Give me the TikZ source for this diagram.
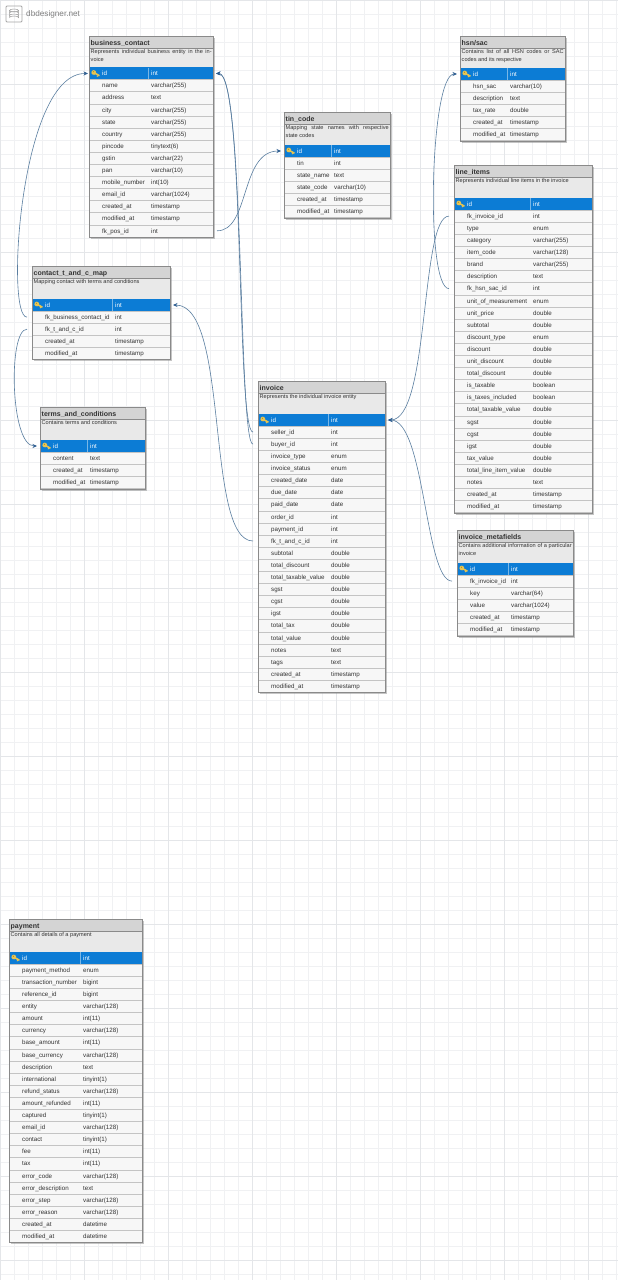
\documentclass[tikz,border=0pt]{standalone}
\usepackage{fontspec}
\setmainfont{Liberation Sans}
\usetikzlibrary{arrows.meta,calc}
\definecolor{gridminor}{HTML}{F0F1F3}
\definecolor{gridmajor}{HTML}{E4E6E9}
\definecolor{headfill}{HTML}{D4D4D4}
\definecolor{descfill}{HTML}{E9E9E9}
\definecolor{rowfill}{HTML}{F7F7F7}
\definecolor{rowline}{HTML}{C4C4C4}
\definecolor{idfill}{HTML}{0C7CD5}
\definecolor{edgecol}{HTML}{8A8A8A}
\definecolor{linkcol}{HTML}{5A7EA0}
\definecolor{tipcol}{HTML}{2F5F92}
\definecolor{keycol}{HTML}{E8C450}
\definecolor{txtcol}{HTML}{333333}
\tikzset{
  x=1pt,y=-1pt,
  shadowbox/.style={fill=black!45,draw=none,opacity=.55},
  tablebox/.style={draw=edgecol,line width=.7pt,fill=none,inner sep=0pt,outer sep=0pt},
  headbox/.style={fill=headfill},
  descbox/.style={fill=descfill},
  rowbox/.style={fill=rowfill,draw=rowline,line width=.4pt},
  idbox/.style={fill=idfill},
  titletext/.style={anchor=base west,inner sep=0pt,font=\fontsize{7}{8}\selectfont\bfseries,text=txtcol},
  desctext/.style={anchor=north west,inner sep=0pt,font=\fontsize{5.6}{8}\selectfont,text=txtcol,align=justify},
  celltext/.style={anchor=base west,inner sep=0pt,font=\fontsize{6.2}{7}\selectfont,text=txtcol},
  idtext/.style={anchor=base west,inner sep=0pt,font=\fontsize{6.2}{7}\selectfont,text=white},
  link/.style={draw=linkcol,line width=.6pt,-{Stealth[length=4.5pt,width=4pt,color=tipcol]}},
}
\newcounter{rownum}
% #1 node name, #2 left, #3 right, #4 top, #5 id row centre, #6 name x, #7 type x, #8 title, #9 description
\newcommand{\dbhead}[9]{%
  \def\tn{#1}\def\tl{#2}\def\tr{#3}\def\tt{#4}\def\tid{#5}\def\tnx{#6}\def\tty{#7}%
  \fill[headbox] (#2,#4) rectangle (#3,#4+12);
  \fill[descbox] (#2,#4+12) rectangle (#3,#5-6);
  \node[titletext] (#1-title) at (#2+1.5,#4+9) {#8};
  \node[desctext,text width=#3-#2-3pt] (#1-desc) at (#2+1.5,#4+13.5) {#9};
  \setcounter{rownum}{0}%
}
\newcommand{\dbrow}[2]{%
  \pgfmathsetmacro{\ry}{\tid+12.1*\therownum}%
  \node[inner sep=0pt,outer sep=0pt,minimum width=\tr pt-\tl pt,minimum height=12.1pt,rowbox] (\tn-r\therownum) at ({(\tl+\tr)/2},\ry) {};
  \node[celltext] at (\tnx,\ry+2.2) {#1};
  \node[celltext] at (\tty,\ry+2.2) {#2};
  \stepcounter{rownum}%
}
\newcommand{\dbid}{%
  \node[inner sep=0pt,outer sep=0pt,minimum width=\tr pt-\tl pt,minimum height=12.2pt,idbox] (\tn-r0) at ({(\tl+\tr)/2},\tid) {};
  \node[idtext] at (\tnx,\tid+2.2) {id};
  \node[idtext] at (\tty,\tid+2.2) {int};
  \draw[white,opacity=.45,line width=.3pt] (\tty-3,\tid-6) -- (\tty-3,\tid+6);
  \begin{scope}[shift={(\tl+6.5,\tid)},rotate=-30]
    \fill[keycol] (-2,0) circle (2.4pt);
    \fill[keycol] (-1,-.8) rectangle (4.5,.8);
    \fill[keycol] (2.5,.8) rectangle (3.4,2);
    \fill[keycol!60!black] (-2.6,-.5) circle (.5pt);
  \end{scope}
  \setcounter{rownum}{1}%
}
\newcommand{\dbclose}[1]{%
  \fill[black!50,opacity=.45] (\tr,\tt+1.5) rectangle (\tr+1.6,#1+1.6);
  \fill[black!50,opacity=.45] (\tl+1.5,#1) rectangle (\tr,#1+1.6);
  \draw[edgecol,line width=.7pt] (\tl,\tt) rectangle (\tr,#1);
  \draw[edgecol,line width=.4pt] (\tl,\tt+12) -- (\tr,\tt+12);
}
\begin{document}
\begin{tikzpicture}
\useasboundingbox (0,0) rectangle (618,1280);
\fill[white] (0,0) rectangle (618,1280);
\foreach \g in {0,14,...,618} \draw[gridminor,line width=.4pt] (\g,0) -- (\g,1280);
\foreach \g in {0,14,...,1280} \draw[gridminor,line width=.4pt] (0,\g) -- (618,\g);
\foreach \g in {0,84,...,618} \draw[gridmajor,line width=.5pt] (\g,0) -- (\g,1280);
\foreach \g in {0,84,...,1280} \draw[gridmajor,line width=.5pt] (0,\g) -- (618,\g);
% logo
\node[draw=black!35,line width=.9pt,rounded corners=1pt,minimum size=16pt,inner sep=0pt] (logo) at (14,14) {};
\draw[black!40,line width=.5pt] (9.5,10.5) -- (9.5,17.5) arc[start angle=180,end angle=360,x radius=4.5,y radius=1.5] -- (18.5,10.5);
\draw[black!40,line width=.5pt] (14,10.5) ellipse[x radius=4.5,y radius=1.5];
\draw[black!40,line width=.4pt] (9.5,13) arc[start angle=180,end angle=360,x radius=4.5,y radius=1.5];
\draw[black!40,line width=.4pt] (9.5,15.5) arc[start angle=180,end angle=360,x radius=4.5,y radius=1.5];
\node[anchor=base west,inner sep=0pt,text=black!50,font=\fontsize{8.2}{9}\selectfont] (logotext) at (26,16.5) {dbdesigner.net};

% business_contact
\dbhead{bc}{89}{213}{36}{73.5}{102}{151}{business\_contact}{Represents individual business entity in the invoice}
\dbid
\dbrow{name}{varchar(255)}
\dbrow{address}{text}
\dbrow{city}{varchar(255)}
\dbrow{state}{varchar(255)}
\dbrow{country}{varchar(255)}
\dbrow{pincode}{tinytext(6)}
\dbrow{gstin}{varchar(22)}
\dbrow{pan}{varchar(10)}
\dbrow{mobile\_number}{int(10)}
\dbrow{email\_id}{varchar(1024)}
\dbrow{created\_at}{timestamp}
\dbrow{modified\_at}{timestamp}
\dbrow{fk\_pos\_id}{int}
\dbclose{237}

% tin_code
\dbhead{tin}{284}{390}{112}{151}{297}{334}{tin\_code}{Mapping state names with respective state codes}
\dbid
\dbrow{tin}{int}
\dbrow{state\_name}{text}
\dbrow{state\_code}{varchar(10)}
\dbrow{created\_at}{timestamp}
\dbrow{modified\_at}{timestamp}
\dbclose{218}

% contact_t_and_c_map
\dbhead{ctc}{32}{170}{266}{305}{45}{115}{contact\_t\_and\_c\_map}{Mapping contact with terms and conditions}
\dbid
\dbrow{fk\_business\_contact\_id}{int}
\dbrow{fk\_t\_and\_c\_id}{int}
\dbrow{created\_at}{timestamp}
\dbrow{modified\_at}{timestamp}
\dbclose{359}

% terms_and_conditions
\dbhead{tc}{40}{145}{407}{446}{53}{90}{terms\_and\_conditions}{Contains terms and conditions}
\dbid
\dbrow{content}{text}
\dbrow{created\_at}{timestamp}
\dbrow{modified\_at}{timestamp}
\dbclose{489}

% invoice
\dbhead{inv}{258}{385}{381}{420}{271}{331}{invoice}{Represents the individual invoice entity}
\dbid
\dbrow{seller\_id}{int}
\dbrow{buyer\_id}{int}
\dbrow{invoice\_type}{enum}
\dbrow{invoice\_status}{enum}
\dbrow{created\_date}{date}
\dbrow{due\_date}{date}
\dbrow{paid\_date}{date}
\dbrow{order\_id}{int}
\dbrow{payment\_id}{int}
\dbrow{fk\_t\_and\_c\_id}{int}
\dbrow{subtotal}{double}
\dbrow{total\_discount}{double}
\dbrow{total\_taxable\_value}{double}
\dbrow{sgst}{double}
\dbrow{cgst}{double}
\dbrow{igst}{double}
\dbrow{total\_tax}{double}
\dbrow{total\_value}{double}
\dbrow{notes}{text}
\dbrow{tags}{text}
\dbrow{created\_at}{timestamp}
\dbrow{modified\_at}{timestamp}
\dbclose{692}

% hsn/sac
\dbhead{hsn}{460}{565}{36}{74}{473}{510}{hsn/sac}{Contains list of all HSN codes or SAC codes and its respective}
\dbid
\dbrow{hsn\_sac}{varchar(10)}
\dbrow{description}{text}
\dbrow{tax\_rate}{double}
\dbrow{created\_at}{timestamp}
\dbrow{modified\_at}{timestamp}
\dbclose{141}

% line_items
\dbhead{li}{454}{592}{165}{204}{467}{533}{line\_items}{Represents individual line items in the invoice}
\dbid
\dbrow{fk\_invoice\_id}{int}
\dbrow{type}{enum}
\dbrow{category}{varchar(255)}
\dbrow{item\_code}{varchar(128)}
\dbrow{brand}{varchar(255)}
\dbrow{description}{text}
\dbrow{fk\_hsn\_sac\_id}{int}
\dbrow{unit\_of\_measurement}{enum}
\dbrow{unit\_price}{double}
\dbrow{subtotal}{double}
\dbrow{discount\_type}{enum}
\dbrow{discount}{double}
\dbrow{unit\_discount}{double}
\dbrow{total\_discount}{double}
\dbrow{is\_taxable}{boolean}
\dbrow{is\_taxes\_included}{boolean}
\dbrow{total\_taxable\_value}{double}
\dbrow{sgst}{double}
\dbrow{cgst}{double}
\dbrow{igst}{double}
\dbrow{tax\_value}{double}
\dbrow{total\_line\_item\_value}{double}
\dbrow{notes}{text}
\dbrow{created\_at}{timestamp}
\dbrow{modified\_at}{timestamp}
\dbclose{513}

% invoice_metafields
\dbhead{im}{457}{573}{530}{569}{470}{511}{invoice\_metafields}{Contains additional information of a particular invoice}
\dbid
\dbrow{fk\_invoice\_id}{int}
\dbrow{key}{varchar(64)}
\dbrow{value}{varchar(1024)}
\dbrow{created\_at}{timestamp}
\dbrow{modified\_at}{timestamp}
\dbclose{636}

% payment
\dbhead{pay}{9}{142}{919}{958}{22}{83}{payment}{Contains all details of a payment}
\dbid
\dbrow{payment\_method}{enum}
\dbrow{transaction\_number}{bigint}
\dbrow{reference\_id}{bigint}
\dbrow{entity}{varchar(128)}
\dbrow{amount}{int(11)}
\dbrow{currency}{varchar(128)}
\dbrow{base\_amount}{int(11)}
\dbrow{base\_currency}{varchar(128)}
\dbrow{description}{text}
\dbrow{international}{tinyint(1)}
\dbrow{refund\_status}{varchar(128)}
\dbrow{amount\_refunded}{int(11)}
\dbrow{captured}{tinyint(1)}
\dbrow{email\_id}{varchar(128)}
\dbrow{contact}{tinyint(1)}
\dbrow{fee}{int(11)}
\dbrow{tax}{int(11)}
\dbrow{error\_code}{varchar(128)}
\dbrow{error\_description}{text}
\dbrow{error\_step}{varchar(128)}
\dbrow{error\_reason}{varchar(128)}
\dbrow{created\_at}{datetime}
\dbrow{modified\_at}{datetime}
\dbclose{1242}

% connectors
\path[link] ([xshift=-5pt]ctc-r1.west) .. controls (5,318) and (20,73) .. ([xshift=-1pt]bc-r0.west);
\path[link] ([xshift=-5pt]ctc-r2.west) .. controls (8,329) and (10,446) .. ([xshift=-3pt]tc-r0.west);
\path[link] ([xshift=4pt]bc-r13.east) .. controls (250,231) and (240,151) .. ([xshift=-3pt]tin-r0.west);
\path[link] ([xshift=-5pt]inv-r1.west) .. controls (236,432) and (245,73) .. ([xshift=3pt]bc-r0.east);
\path[link] ([xshift=-5pt]inv-r2.west) .. controls (238,444) and (245,73) .. ([xshift=3pt]bc-r0.east);
\path[link] ([xshift=-5pt]inv-r10.west) .. controls (205,541) and (230,305) .. ([xshift=3pt]ctc-r0.east);
\path[link] ([xshift=-5pt]li-r1.west) .. controls (420,216) and (430,420) .. ([xshift=3pt]inv-r0.east);
\path[link] ([xshift=-5pt]im-r1.west) .. controls (425,581) and (425,420) .. ([xshift=3pt]inv-r0.east);
\path[link] ([xshift=-5pt]li-r7.west) .. controls (425,288) and (430,74) .. ([xshift=-3pt]hsn-r0.west);
\end{tikzpicture}
\end{document}
